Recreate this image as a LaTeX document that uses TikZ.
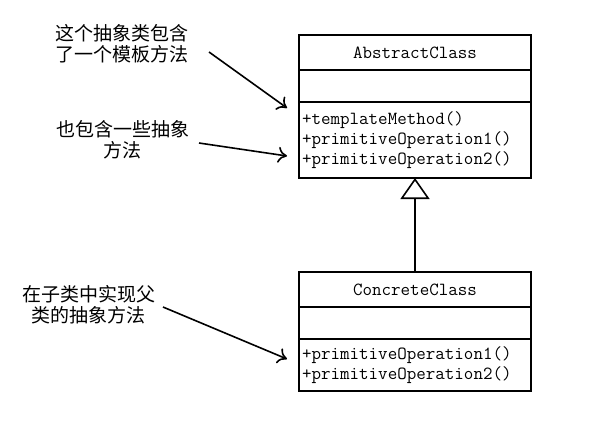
\documentclass[tikz,border=0pt]{standalone}
\usepackage{fontspec}
\newfontfamily\cjk{Noto Sans CJK SC}
\usetikzlibrary{positioning}
\usetikzlibrary{arrows.meta}

\begin{document}
\begin{tikzpicture}[
    x=1pt, y=-1pt, line width=1.6pt,
    uml/.style={draw, minimum width=232pt, outer sep=0pt, inner sep=3pt, font=\ttfamily\fontsize{18.5}{20}\selectfont},
    ops/.style={uml, text width=226pt, align=left},
    note/.style={align=center, font=\cjk\fontsize{19}{21}\selectfont},
    note-arr/.style={-{To[length=9pt,width=16pt]}}
  ]
  \useasboundingbox (0,0) rectangle (615,437);

  \node[uml, minimum height=35pt] (abs) at (415,52.5) {AbstractClass};
  \node[uml, minimum height=32pt, below=0pt of abs] (abs-attr) {};
  \node[ops, minimum height=76pt, below=0pt of abs-attr] (abs-ops) {+templateMethod()\\+primitiveOperation1()\\+primitiveOperation2()};

  \node[uml, minimum height=35pt] (con) at (415,289.5) {ConcreteClass};
  \node[uml, minimum height=32pt, below=0pt of con] (con-attr) {};
  \node[ops, minimum height=52pt, below=0pt of con-attr] (con-ops) {+primitiveOperation1()\\+primitiveOperation2()};

  \draw[-{Triangle[open, length=21pt, width=29pt]}] (con.north) -- (abs-ops.south);

  \node[note] (n-tpl) at (122,43.5) {这个抽象类包含\\了一个模板方法};
  \node[note] (n-abs) at (122.5,140) {也包含一些抽象\\方法};
  \node[note] (n-con) at (88.5,305) {在子类中实现父\\类的抽象方法};

  \coordinate (tpl-from) at (209,52);
  \coordinate (tpl-to) at (287,108);
  \coordinate (abs-from) at (199,143);
  \coordinate (abs-to) at (287,156);
  \coordinate (con-from) at (163,307);
  \coordinate (con-to) at (287,359);

  \draw[note-arr] (tpl-from) -- (tpl-to);
  \draw[note-arr] (abs-from) -- (abs-to);
  \draw[note-arr] (con-from) -- (con-to);

\end{tikzpicture}
\end{document}
